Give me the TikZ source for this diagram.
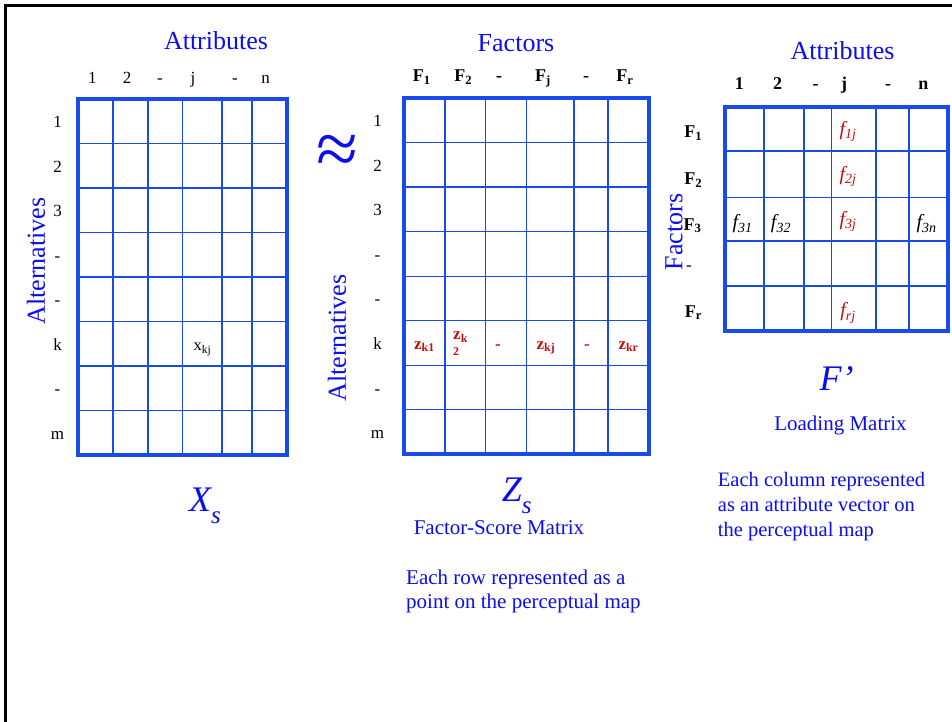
\documentclass[tikz,border=0pt]{standalone}
\usepackage{fontspec}
\setmainfont{Liberation Serif}
\definecolor{gridblue}{RGB}{25,75,235}
\definecolor{txtblue}{RGB}{12,12,240}
\definecolor{zred}{RGB}{195,15,15}
\begin{document}
\begin{tikzpicture}[x=1pt,y=-1pt,
  gridline/.style={draw=gridblue,line width=1.3pt},
  gridborder/.style={draw=gridblue,line width=3.8pt},
  frameline/.style={draw=black,line width=3pt},
  title/.style={text=txtblue,inner sep=0pt,anchor=base,font=\fontsize{26}{30}\selectfont},
  lbl/.style={inner sep=0pt,anchor=base,font=\fontsize{17}{20}\selectfont},
  blbl/.style={inner sep=0pt,anchor=base,font=\fontsize{18}{20}\selectfont\bfseries},
  zent/.style={inner sep=0pt,anchor=base,text=zred,font=\fontsize{17}{20}\selectfont\bfseries},
  fent/.style={inner sep=0pt,anchor=center,font=\fontsize{20}{22}\selectfont\itshape},
  bigsym/.style={inner sep=0pt,anchor=base,text=txtblue,font=\fontsize{36}{40}\selectfont\itshape},
  caption/.style={inner sep=0pt,text=txtblue,font=\fontsize{21}{24.5}\selectfont}
]
\useasboundingbox (0,0) rectangle (952,722);
\draw[frameline] (5.5,722) -- (5.5,6) -- (952,6);

% ---------- Matrix X_s ----------
\foreach \x in {113,148,182.7,222,252} \draw[gridline] (\x,99) -- (\x,455);
\foreach \i in {1,...,7} \draw[gridline] (78,99+44.5*\i) -- (287,99+44.5*\i);
\draw[gridborder] (78,99) rectangle (287,455);
\node[title] (attr1) at (216,49.3) {Attributes};
\foreach \t/\x [count=\i] in {1/92.3,2/127,-/160,j/193,-/235,n/265.7}
  \node[lbl] (xc\i) at (\x,83.3) {\t};
\foreach \t [count=\i] in {1,2,3,-,-,k,-,m}
  \node[lbl] (xr\i) at (57.5,99+44.5*\i-22.25+6.5) {\t};
\node[title,rotate=90,anchor=center] (alt1) at (36,261) {Alternatives};
\node[lbl,font=\fontsize{16.5}{18}\selectfont] (xkj) at (202.5,350.5) {x\textsubscript{kj}};
\node[bigsym,anchor=base west] (xs) at (189,511.7) {X\raisebox{-0.32em}{\fontsize{25}{25}\selectfont s}};

% ---------- approx ----------
\node[text=txtblue,inner sep=0pt,font=\fontsize{76}{76}\selectfont] (approx) at (337,155) {≈};

% ---------- Matrix Z_s ----------
\foreach \x in {445,485.7,526.7,574,608} \draw[gridline] (\x,98) -- (\x,454.3);
\foreach \i in {1,...,7} \draw[gridline] (404,98+44.54*\i) -- (649,98+44.54*\i);
\draw[gridborder] (404,98) rectangle (649,454.3);
\node[title] (fac1) at (516,51.7) {Factors};
\foreach \t/\x [count=\i] in {F\textsubscript{1}/421.7,F\textsubscript{2}/463.3,-/499,F\textsubscript{j}/543,-/586,F\textsubscript{r}/625}
  \node[blbl] (zc\i) at (\x,81.7) {\t};
\foreach \t [count=\i] in {1,2,3,-,-,k,-,m}
  \node[lbl] (zr\i) at (377.5,98+44.54*\i-22.27+6.5) {\t};
\node[title,rotate=90,anchor=center] (alt2) at (337,338) {Alternatives};
\node[zent] (zk1) at (424.5,349.3) {z\textsubscript{k1}};
\node[zent,anchor=north west,align=left,font=\fontsize{17}{13}\selectfont\bfseries] (zk2) at (453,331.5) {z\textsubscript{k}\\\textsubscript{2}};
\node[zent] (zd1) at (498,349.3) {-};
\node[zent] (zkj) at (546,349.3) {z\textsubscript{kj}};
\node[zent] (zd2) at (587,349.3) {-};
\node[zent] (zkr) at (628.5,349.3) {z\textsubscript{kr}};
\node[bigsym,anchor=base west] (zs) at (501.7,501.7) {Z\raisebox{-0.32em}{\fontsize{25}{25}\selectfont s}};
\node[caption,anchor=base] (fsm) at (499,534) {Factor-Score Matrix};
\node[caption,anchor=north west,align=left] (rowtxt) at (406,569.5) {Each row represented as a\\point on the perceptual map};

% ---------- Matrix F' ----------
\foreach \x in {764,804,831.7,876,909} \draw[gridline] (\x,106.7) -- (\x,330.7);
\foreach \y in {151,197.7,241,286} \draw[gridline] (725,\y) -- (947.7,\y);
\draw[gridborder] (725,106.7) rectangle (947.7,330.7);
\node[title] (attr3) at (842.5,59.3) {Attributes};
\foreach \t/\x [count=\i] in {1/739.3,2/777.7,-/815.7,j/844,-/888,n/923.3}
  \node[blbl] (fc\i) at (\x,90) {\t};
\node[title,rotate=90,anchor=center] (fac2) at (674,232) {Factors};
\node[blbl] (fr1) at (693.3,138) {F\textsubscript{1}};
\node[blbl] (fr2) at (693.3,185) {F\textsubscript{2}};
\node[blbl] (fr3) at (692.5,230) {F\textsubscript{3}};
\node[lbl] (fr4) at (689,270.5) {-};
\node[blbl] (fr5) at (693.3,317) {F\textsubscript{r}};
\node[fent,text=zred] (f1j) at (848,131.7) {f\textsubscript{1j}};
\node[fent,text=zred] (f2j) at (848,176.7) {f\textsubscript{2j}};
\node[fent,text=zred] (f3j) at (848,221.7) {f\textsubscript{3j}};
\node[fent,text=zred] (frj) at (848,313) {f\textsubscript{rj}};
\node[fent] (f31) at (742.7,224) {f\textsubscript{31}};
\node[fent] (f32) at (781,224) {f\textsubscript{32}};
\node[fent] (f3n) at (926.7,224) {f\textsubscript{3n}};
\node[bigsym] (fp) at (836.5,390) {F’};
\node[caption,anchor=base] (lm) at (840.5,430.7) {Loading Matrix};
\node[caption,anchor=north west,align=left,font=\fontsize{20.5}{25}\selectfont] (coltxt) at (717.7,472.5) {Each column represented\\as an attribute vector on\\the perceptual map};
\end{tikzpicture}
\end{document}
